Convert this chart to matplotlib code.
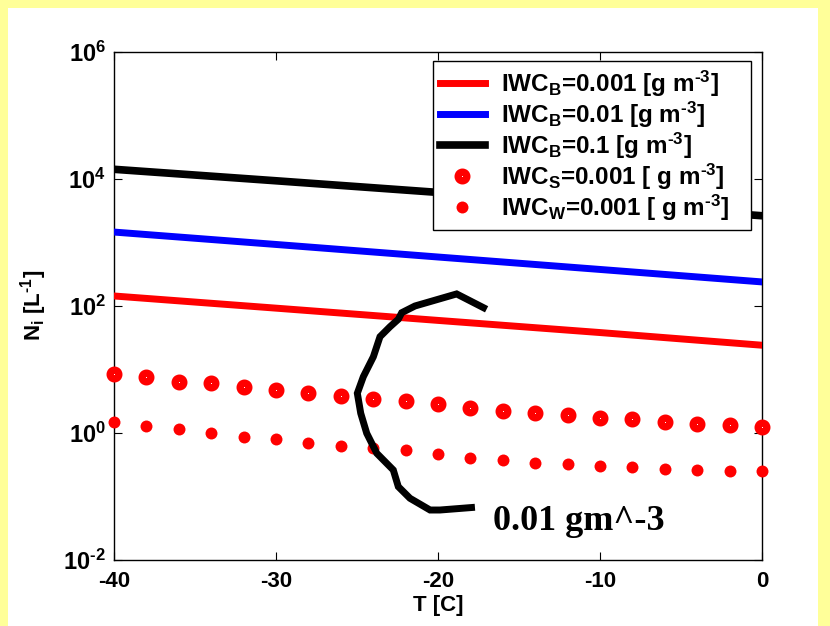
import numpy as np
import matplotlib
matplotlib.use("Agg")
import matplotlib.pyplot as plt
from matplotlib.patches import Rectangle

plt.rcParams['font.family'] = ['Liberation Sans', 'DejaVu Sans']
plt.rcParams['font.weight'] = 'bold'
plt.rcParams['mathtext.fontset'] = 'custom'
plt.rcParams['mathtext.rm'] = 'Liberation Sans:bold'
plt.rcParams['mathtext.bf'] = 'Liberation Sans:bold'
plt.rcParams['mathtext.it'] = 'Liberation Sans:bold'
plt.rcParams['mathtext.default'] = 'bf'
plt.rcParams['axes.unicode_minus'] = False

# ---- data ----
T_line = [-40, -30, -20, -10, 0]
N_B_0001 = [143, 92, 59, 38, 24]
N_B_001 = [1450, 925, 587, 374, 238]
N_B_01 = [14100, 9300, 6100, 4000, 2620]

T_pts = [-40, -38, -36, -34, -32, -30, -28, -26, -24, -22, -20,
         -18, -16, -14, -12, -10, -8, -6, -4, -2, 0]
N_S_0001 = [8.47, 7.51, 6.40, 6.04, 5.23, 4.74, 4.21, 3.86, 3.42, 3.18, 2.85,
            2.50, 2.25, 2.06, 1.92, 1.74, 1.63, 1.50, 1.38, 1.33, 1.22]
N_W_0001 = [1.50, 1.29, 1.14, 0.99, 0.87, 0.79, 0.69, 0.63, 0.57, 0.53, 0.47,
            0.41, 0.37, 0.34, 0.33, 0.30, 0.29, 0.27, 0.26, 0.25, 0.25]

# hand-drawn contour annotation (0.01 g m^-3)
curve_T = [-17.0, -18.85, -21.42, -22.24, -22.45, -22.96, -23.58, -23.99, -24.61,
           -24.98, -24.77, -24.40, -23.78, -22.76, -22.45, -21.73, -20.49, -19.88, -17.72]
curve_N = [88.3, 154, 99.5, 78.0, 61.5, 47.0, 32.7, 15.8, 7.67,
           4.21, 2.04, 0.987, 0.478, 0.261, 0.1426, 0.0936, 0.0612, 0.0612, 0.0676]

labels = [r'IWC$_{B}$=0.001 [g m$^{\text{-}3}$]',
          r'IWC$_{B}$=0.01 [g m$^{\text{-}3}$]',
          r'IWC$_{B}$=0.1 [g m$^{\text{-}3}$]',
          r'IWC$_{S}$=0.001 [ g m$^{\text{-}3}$]',
          r'IWC$_{W}$=0.001 [ g m$^{\text{-}3}$]']
xticks = [-40, -30, -20, -10, 0]
yexps = [-2, 0, 2, 4, 6]

# ---- figure ----
fig = plt.figure(figsize=(8.30, 6.26), dpi=100)
fig.patch.set_facecolor('white')
yel = '#FFFF99'
for (x0, y0, w, h) in [(0, 0, 8, 626), (0, 618, 830, 8), (818, 0, 12, 626)]:
    fig.add_artist(Rectangle((x0 / 830, y0 / 626), w / 830, h / 626,
                             transform=fig.transFigure, facecolor=yel,
                             edgecolor='none', zorder=-10))

ax = fig.add_axes([114 / 830, 66 / 626, (762 - 114) / 830, (560 - 51.7) / 626])
ax.set_yscale('log')

pad = '   '
ax.plot(T_line, N_B_0001, color='#FF0000', lw=5, label=labels[0] + pad, zorder=3)
ax.plot(T_line, N_B_001, color='#0000FF', lw=5, label=labels[1] + pad, zorder=3)
ax.plot(T_line, N_B_01, color='black', lw=5.5, label=labels[2] + pad, zorder=3)
ax.plot(T_pts, N_S_0001, ls='none', marker='o', ms=6.3, mew=5.2,
        mec='#FF0000', mfc='white', label=labels[3] + pad, zorder=4, clip_on=False)
ax.plot(T_pts, N_W_0001, ls='none', marker='o', ms=8.6, mew=0,
        mfc='#FF0000', label=labels[4] + pad, zorder=4, clip_on=False)

ax.plot(curve_T, curve_N, color='black', lw=5, solid_joinstyle='miter',
        solid_capstyle='butt', zorder=5)
ax.text(-16.6, 0.0297, '0.01 gm^-3', family=['Liberation Serif', 'DejaVu Serif'],
        fontsize=26, fontweight='bold', va='baseline', ha='left')

ax.set_xlim(-40, 0)
ax.set_ylim(1e-2, 1e6)
ax.set_xticks(xticks)
ax.set_xticklabels([str(t) for t in xticks], fontsize=16, fontweight='bold')
ax.set_yticks([10.0 ** e for e in yexps])
ax.set_yticklabels([r'$10^{%s}$' % (r'\text{-}%d' % -e if e < 0 else '%d' % e)
                    for e in yexps], fontsize=17)
ax.yaxis.set_minor_locator(matplotlib.ticker.NullLocator())
ax.tick_params(which='both', direction='in', top=True, right=True,
               length=6, width=0.8, pad=6)
ax.tick_params(axis='x', pad=8)
for s in ax.spines.values():
    s.set_linewidth(1.0)

ax.set_xlabel('T [C]', fontsize=16, fontweight='bold', labelpad=2)
ax.set_ylabel(r'N$_{i}$ [L$^{\text{-}1}$]', fontsize=16, fontweight='bold', labelpad=10)

leg = ax.legend(loc='upper right', bbox_to_anchor=((751 - 114) / 648, 0.981), fontsize=17.5,
                frameon=True, fancybox=False, framealpha=1, edgecolor='black',
                handlelength=1.85, handletextpad=0.65, labelspacing=0.03,
                borderpad=0.3, borderaxespad=0)
leg.get_frame().set_linewidth(1.0)

fig.savefig('out.png', dpi=100, facecolor=fig.get_facecolor())
